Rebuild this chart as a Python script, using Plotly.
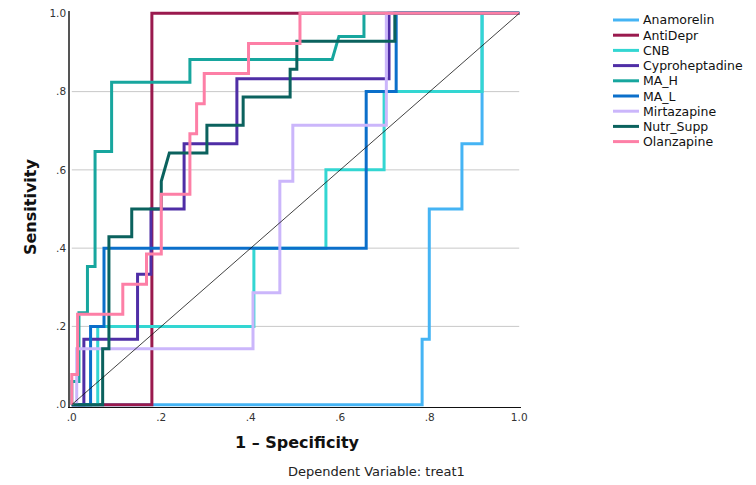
import plotly.graph_objects as go

# ROC coordinates (1 - specificity, sensitivity) for each treatment
names = ["Anamorelin", "AntiDepr", "CNB", "Cyproheptadine", "MA_H",
         "MA_L", "Mirtazapine", "Nutr_Supp", "Olanzapine"]

fpr = {
    "Anamorelin": [0, 0.783, 0.783, 0.799, 0.799, 0.872, 0.872, 0.917, 0.917, 1],
    "AntiDepr": [0, 0.179, 0.179, 1],
    "CNB": [0, 0.058, 0.058, 0.407, 0.407, 0.568, 0.568, 0.698, 0.698, 0.917, 0.917, 1],
    "Cyproheptadine": [0, 0.027, 0.027, 0.147, 0.147, 0.177, 0.177, 0.251, 0.251,
                       0.369, 0.369, 0.709, 0.709, 1],
    "MA_H": [0, 0.0, 0.016, 0.016, 0.035, 0.035, 0.052, 0.052, 0.089, 0.089,
             0.264, 0.264, 0.582, 0.597, 0.653, 0.653, 1],
    "MA_L": [0, 0.042, 0.042, 0.072, 0.072, 0.658, 0.658, 0.725, 0.725, 1],
    "Mirtazapine": [0, 0.011, 0.011, 0.405, 0.405, 0.465, 0.465, 0.494, 0.494,
                    0.703, 0.703, 1],
    "Nutr_Supp": [0, 0.069, 0.069, 0.083, 0.083, 0.134, 0.134, 0.2, 0.2, 0.218,
                  0.302, 0.302, 0.383, 0.383, 0.488, 0.488, 0.503, 0.503,
                  0.722, 0.722, 1],
    "Olanzapine": [0, 0, 0.013, 0.013, 0.114, 0.114, 0.167, 0.167, 0.2, 0.2,
                   0.264, 0.264, 0.279, 0.279, 0.296, 0.296, 0.395, 0.395,
                   0.51, 0.51, 1],
}

tpr = {
    "Anamorelin": [0, 0, 0.167, 0.167, 0.5, 0.5, 0.667, 0.667, 1, 1],
    "AntiDepr": [0, 0, 1, 1],
    "CNB": [0, 0, 0.2, 0.2, 0.4, 0.4, 0.6, 0.6, 0.8, 0.8, 1, 1],
    "Cyproheptadine": [0, 0, 0.167, 0.167, 0.333, 0.333, 0.5, 0.5, 0.667, 0.667,
                       0.833, 0.833, 1, 1],
    "MA_H": [0, 0.059, 0.059, 0.235, 0.235, 0.353, 0.353, 0.647, 0.647, 0.824,
             0.824, 0.882, 0.882, 0.941, 0.941, 1, 1],
    "MA_L": [0, 0, 0.2, 0.2, 0.4, 0.4, 0.8, 0.8, 1, 1],
    "Mirtazapine": [0, 0, 0.143, 0.143, 0.286, 0.286, 0.571, 0.571, 0.714, 0.714, 1, 1],
    "Nutr_Supp": [0, 0, 0.143, 0.143, 0.429, 0.429, 0.5, 0.5, 0.571, 0.643,
                  0.643, 0.714, 0.714, 0.786, 0.786, 0.857, 0.857, 0.929,
                  0.929, 1, 1],
    "Olanzapine": [0, 0.077, 0.077, 0.231, 0.231, 0.308, 0.308, 0.385, 0.385,
                   0.538, 0.538, 0.692, 0.692, 0.769, 0.769, 0.846, 0.846,
                   0.923, 0.923, 1, 1],
}

colors = {
    "Anamorelin": "#45b4f4",
    "AntiDepr": "#9a1a4e",
    "CNB": "#33d6d2",
    "Cyproheptadine": "#4f2ea6",
    "MA_H": "#17a69e",
    "MA_L": "#0b6fca",
    "Mirtazapine": "#cbb6fb",
    "Nutr_Supp": "#0b625e",
    "Olanzapine": "#fd7fa6",
}

tick_vals = [0, 0.2, 0.4, 0.6, 0.8, 1.0]
tick_text = [".0", ".2", ".4", ".6", ".8", "1.0"]
grid_vals = [0.2, 0.4, 0.6, 0.8]

FONT = "DejaVu Sans"

# plot area in pixels (slightly padded so lines on the borders are not clipped)
M_L, M_R, M_T, M_B = 70, 235, 11, 78
W, H = 756, 485
PW, PH = W - M_L - M_R, H - M_T - M_B


def px(xp):
    return (xp - M_L) / PW


def py(yp):
    return (H - M_B - yp) / PH


fig = go.Figure()

# horizontal reference lines (interior ticks only)
for g in grid_vals:
    fig.add_shape(type="line", xref="x", yref="y", x0=0, x1=1, y0=g, y1=g,
                  line=dict(color="#c8c8c8", width=1), layer="below")

for n in names:
    fig.add_trace(go.Scatter(x=fpr[n], y=tpr[n], mode="lines", name=n,
                             line=dict(color=colors[n], width=3),
                             showlegend=False, hoverinfo="skip"))

# reference (chance) diagonal
fig.add_trace(go.Scatter(x=[0, 1], y=[0, 1], mode="lines",
                         line=dict(color="#111111", width=0.8),
                         showlegend=False, hoverinfo="skip"))

# legend drawn by hand in paper coordinates
for i, n in enumerate(names):
    yy = py(20 + i * 15.2)
    fig.add_shape(type="line", xref="paper", yref="paper",
                  x0=px(613), x1=px(639), y0=yy, y1=yy,
                  line=dict(color=colors[n], width=3))
    fig.add_annotation(xref="paper", yref="paper", x=px(641), y=yy,
                       text=n, showarrow=False, xanchor="left", yanchor="middle",
                       font=dict(family=FONT, size=12.5, color="#111111"))

fig.add_annotation(xref="paper", yref="paper", x=px(30), y=py(207),
                   text="<b>Sensitivity</b>", textangle=-90, showarrow=False,
                   xanchor="center", yanchor="middle",
                   font=dict(family=FONT, size=16, color="#111111"))
fig.add_annotation(xref="paper", yref="paper", x=px(297), y=py(442),
                   text="<b>1 – Specificity</b>", showarrow=False,
                   xanchor="center", yanchor="middle",
                   font=dict(family=FONT, size=16, color="#111111"))
fig.add_annotation(xref="paper", yref="paper", x=px(376), y=py(471),
                   text="Dependent Variable: treat1", showarrow=False,
                   xanchor="center", yanchor="middle",
                   font=dict(family=FONT, size=13, color="#222222"))

fig.update_layout(
    width=W, height=H,
    margin=dict(l=M_L, r=M_R, t=M_T, b=M_B),
    paper_bgcolor="white", plot_bgcolor="white",
    font=dict(family=FONT, size=11, color="#333333"),
    xaxis=dict(range=[-0.004, 1.004], tickvals=tick_vals, ticktext=tick_text,
               showgrid=False, zeroline=False, showline=True, automargin=False,
               linecolor="#111111", linewidth=1, ticks="",
               tickfont=dict(size=10.5, color="#333333")),
    yaxis=dict(range=[-0.006, 1.006], tickvals=tick_vals, ticktext=tick_text,
               showgrid=False, automargin=False,
               zeroline=False, showline=True, linecolor="#555555",
               linewidth=1.5, ticks="",
               tickfont=dict(size=10.5, color="#333333")),
)

fig.write_html("out.html")
